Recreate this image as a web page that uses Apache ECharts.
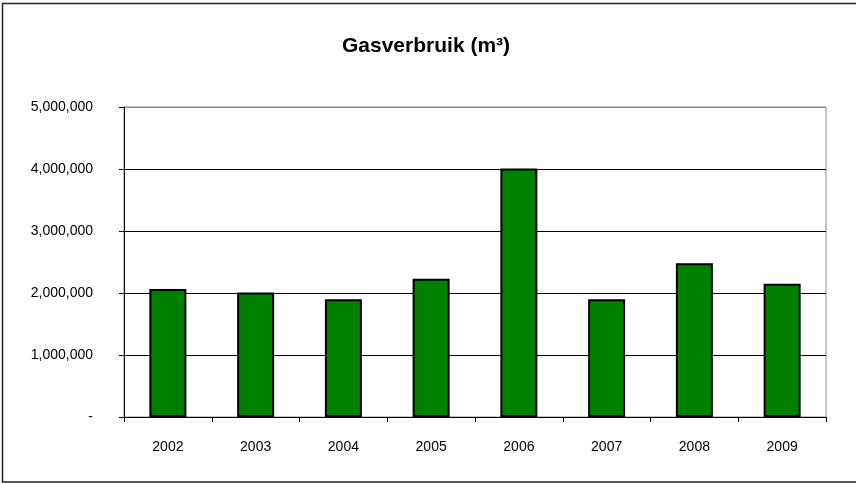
<!DOCTYPE html>
<html>
<head>
<meta charset="utf-8">
<script src="https://cdn.jsdelivr.net/npm/echarts@6/dist/echarts.min.js"></script>
<style>
  html, body { margin: 0; padding: 0; background: #fff; }
  #chart { width: 856px; height: 484px; }
</style>
</head>
<body>
<div id="chart"></div>
<script>
// data
const years = ['2002', '2003', '2004', '2005', '2006', '2007', '2008', '2009']
const gasUse = [2065000, 2010000, 1900000, 2230000, 4010000, 1900000, 2480000, 2150000]
const yMax = 5000000
const yStep = 1000000

const chart = echarts.init(document.getElementById('chart'))

function formatTick(v) {
  if (v === 0) return '-'
  return v.toLocaleString('en-US')
}

const option = {
  backgroundColor: '#fff',
  animation: false,
  textStyle: { fontFamily: 'Liberation Sans, Arial, sans-serif' },
  title: {
    text: 'Gasverbruik (m³)',
    left: 337,
    top: 31,
    textStyle: {
      fontFamily: 'Liberation Sans, Arial, sans-serif',
      fontSize: 21,
      fontWeight: 'bold',
      color: '#000'
    }
  },
  graphic: [
    {
      type: 'rect',
      shape: { x: 2.5, y: 3.5, width: 860, height: 478.5 },
      style: { fill: 'none', stroke: '#222', lineWidth: 1.5 },
      silent: true
    }
  ],
  grid: {
    left: 124,
    top: 107,
    right: 30,
    bottom: 67,
    show: true,
    borderColor: '#888',
    borderWidth: 1,
    backgroundColor: '#fff'
  },
  xAxis: {
    type: 'category',
    data: years,
    boundaryGap: true,
    axisLine: { show: true, lineStyle: { color: '#000', width: 1 } },
    axisTick: { show: true, alignWithLabel: false, length: 5, lineStyle: { color: '#000' } },
    axisLabel: { color: '#000', fontSize: 14, margin: 23 },
    splitLine: { show: false }
  },
  yAxis: {
    type: 'value',
    min: 0,
    max: yMax,
    interval: yStep,
    axisLine: { show: true, lineStyle: { color: '#000', width: 1 } },
    axisTick: { show: true, length: 5, lineStyle: { color: '#000' } },
    axisLabel: { color: '#000', fontSize: 14, margin: 31, formatter: formatTick },
    splitLine: {
      show: true,
      lineStyle: { color: ['#000', '#000', '#000', '#000', '#000', '#888'], width: 1 }
    }
  },
  series: [
    {
      name: 'Gasverbruik',
      type: 'bar',
      data: gasUse,
      barWidth: 37,
      itemStyle: {
        color: '#008000',
        borderColor: '#000',
        borderWidth: 2
      }
    }
  ]
}

chart.setOption(option)
</script>
</body>
</html>
